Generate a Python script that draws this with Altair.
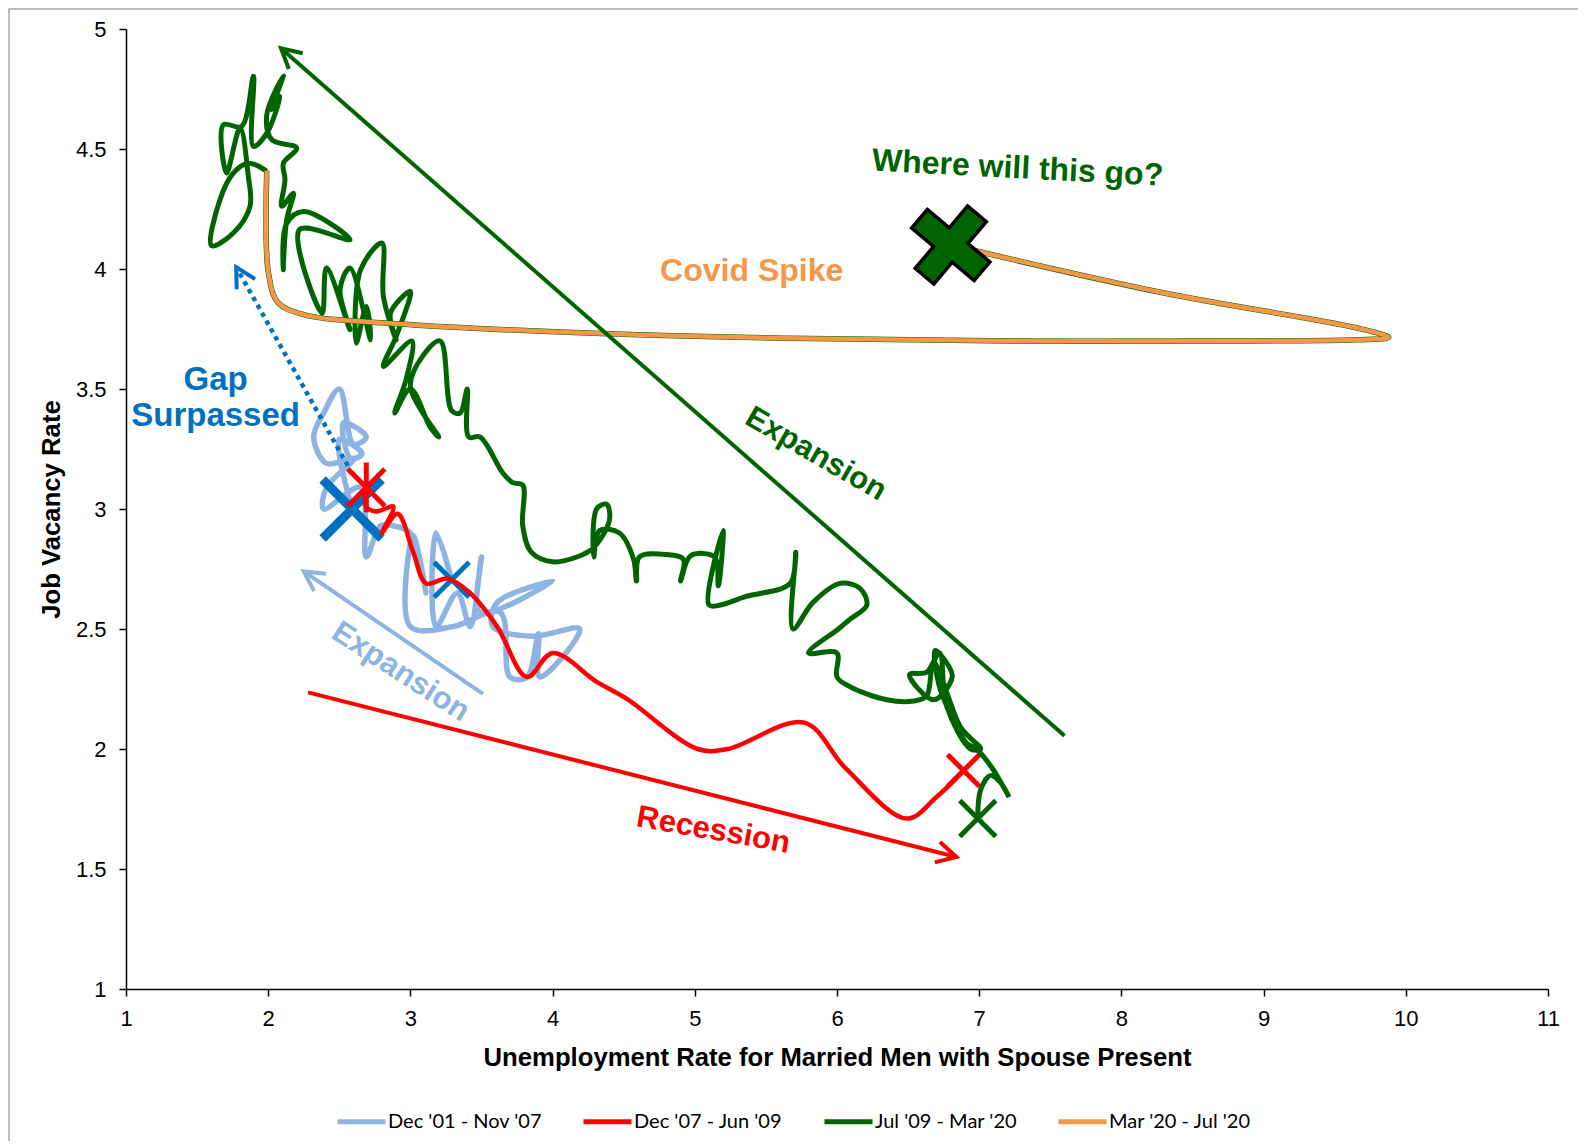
import math
import altair as alt
import pandas as pd

# ---------------- data ----------------
# x = unemployment rate (married men, spouse present), y = job vacancy rate
SERIES = ["Dec '01 - Nov '07", "Dec '07 - Jun '09", "Jul '09 - Mar '20", "Mar '20 - Jul '20"]
COLORS = ["#8db3e2", "#ff0000", "#006400", "#f79646"]

blue_x = [3.29, 3.18, 3.18, 3.33, 3.42, 3.50, 3.49, 4.00, 3.61, 3.58, 3.86, 4.19, 3.91, 3.90,
          3.82, 3.70, 3.63, 3.30, 3.00, 3.02, 3.11, 3.00, 2.88, 2.79, 2.69, 2.65, 2.39, 2.41,
          2.60, 2.41, 2.32, 2.39, 2.50, 2.60, 2.69, 2.53, 2.58, 2.66, 2.50, 2.59]
blue_y = [2.705, 2.90, 2.51, 2.65, 2.51, 2.80, 2.57, 2.70, 2.61, 2.51, 2.47, 2.50, 2.30, 2.48,
          2.30, 2.30, 2.57, 2.51, 2.51, 2.89, 2.65, 2.90, 2.93, 2.93, 2.80, 3.09, 3.00, 3.09,
          3.21, 3.19, 3.30, 3.40, 3.50, 3.27, 3.30, 3.36, 3.21, 3.23, 3.29, 3.00]

red_x = [2.69, 2.69, 2.76, 2.88, 2.80, 2.91, 3.02, 3.11, 3.26, 3.42, 3.61, 3.82, 4.00, 4.31,
         4.52, 5.02, 5.23, 5.77, 6.06, 6.49, 6.70, 6.89]
red_y = [3.09, 3.01, 2.99, 3.01, 2.90, 2.98, 2.82, 2.69, 2.71, 2.65, 2.51, 2.30, 2.40, 2.28,
         2.21, 2.00, 2.00, 2.11, 1.92, 1.71, 1.80, 1.91]

green_x = [6.99, 7.01, 7.08, 7.15, 7.21, 7.08, 6.98, 6.91, 6.82, 6.72, 6.69, 6.77, 6.81, 6.68,
           6.51, 6.63, 6.72, 6.77, 6.94, 7.01, 6.87, 6.68, 6.63, 6.54, 6.35, 6.09, 6.00, 6.00,
           5.80, 6.01, 6.09, 6.21, 6.16, 6.02, 5.83, 5.69, 5.71, 5.67, 5.36, 5.18, 5.10, 5.20,
           5.165, 5.14, 4.97, 4.90, 4.92, 4.80, 4.61, 4.59, 4.57, 4.47, 4.33, 4.29, 4.31, 4.38,
           4.40, 4.29, 4.17, 4.00, 3.85, 3.79, 3.79, 3.72, 3.65, 3.49, 3.41, 3.40, 3.35, 3.29,
           3.21, 3.09, 3.00, 3.20, 3.14, 3.00, 2.89, 2.97, 3.01,
           2.81, 2.90, 3.00, 2.86, 2.90, 2.81, 2.80, 2.65, 2.62, 2.69, 2.72, 2.575, 2.505, 2.575,
           2.41, 2.38, 2.22, 2.575, 2.25, 2.13, 2.106, 2.13, 2.177,
           2.095, 2.118, 2.107, 2.20, 2.025, 1.99, 2.107, 2.025, 2.083, 1.99, 1.896, 1.896,
           1.813, 1.685, 1.708, 1.802, 1.86, 1.872, 1.755, 1.602, 1.661, 1.755, 1.86, 1.99]
green_y = [1.71, 1.83, 1.89, 1.86, 1.80, 1.93, 2.00, 2.025, 2.12, 2.26, 2.41, 2.36, 2.30, 2.205,
           2.31, 2.32, 2.40, 2.18, 2.00, 2.00, 2.09, 2.36, 2.22, 2.20, 2.205, 2.26, 2.30, 2.40,
           2.40, 2.50, 2.54, 2.60, 2.67, 2.69, 2.61, 2.50, 2.82, 2.69, 2.636, 2.60, 2.60, 2.91,
           2.68, 2.80, 2.805, 2.70, 2.79, 2.81, 2.80, 2.70, 2.79, 2.90, 2.91, 2.80, 3.00, 3.02,
           2.955, 2.84, 2.80, 2.78, 2.82, 2.93, 3.10, 3.11, 3.15, 3.30, 3.30, 3.50, 3.40, 3.41,
           3.70, 3.64, 3.51, 3.30, 3.34, 3.50, 3.40, 3.54, 3.70,
           3.594, 3.719, 3.907, 3.816, 3.705, 3.886, 4.108, 3.997, 3.691, 3.844, 3.705, 4.004,
           3.914, 3.747, 4.004, 3.816, 4.164, 4.122, 4.24, 4.19, 3.997, 4.205, 4.316,
           4.261, 4.372, 4.441, 4.504, 4.539, 4.643, 4.805, 4.664, 4.719, 4.566, 4.511, 4.803,
           4.594, 4.601, 4.40, 4.587, 4.386, 4.261, 4.15, 4.097, 4.289, 4.40, 4.441, 4.407]

orange_x = [1.99, 2.00, 2.07, 2.25, 2.96, 4.39, 5.81, 7.23, 8.65, 9.65, 9.88, 9.65, 8.30, 6.80]
orange_y = [4.41, 3.99, 3.86, 3.81, 3.77, 3.73, 3.71, 3.70, 3.70, 3.705, 3.715, 3.755, 3.90, 4.10]

# annotation arrows (tail -> tip)
arrow_x1 = [7.60, 3.51, 2.28, 2.56]
arrow_y1 = [2.055, 2.23, 2.236, 3.18]
arrow_x2 = [2.09, 2.25, 6.84, 1.775]
arrow_y2 = [4.92, 2.74, 1.55, 4.008]
arrow_color = ["#006400", "#8db3e2", "#ff0000", "#0070c0"]
arrow_dashed = [False, False, False, True]

# annotation texts
note_text = ["Where will this go?", "Covid Spike", "Gap", "Surpassed", "Expansion", "Expansion", "Recession"]
note_x = [7.27, 5.40, 1.63, 1.63, 5.85, 2.93, 5.13]
note_y = [4.42, 3.99, 3.536, 3.388, 3.228, 2.32, 1.66]
note_color = ["#006400", "#f79646", "#0070c0", "#0070c0", "#006400", "#8db3e2", "#ff0000"]
note_size = [32, 32, 33, 33, 31, 31, 31]
note_angle = [3, 0, 0, 0, 30, 33, 10]

# ---------------- layout constants ----------------
W, H = 1422, 960
XDOM, YDOM = [1, 11], [1, 5]
PX = W / (XDOM[1] - XDOM[0])
PY = H / (YDOM[1] - YDOM[0])
FONT = "Liberation Sans"

XPATH = "M-1,-1L1,1M-1,1L1,-1"
STAR = "M-1,-1L1,1M-1,1L1,-1M0,-1.35L0,1.35"
CHEVRON = "M-0.47,0.88L0,0L0.47,0.88"
BIGX = ("M-0.495,-0.919L-0.919,-0.495L-0.424,0L-0.919,0.495L-0.495,0.919L0,0.424"
        "L0.495,0.919L0.919,0.495L0.424,0L0.919,-0.495L0.495,-0.919L0,-0.424Z")


def series_df(xs, ys, name):
    return pd.DataFrame({"x": xs, "y": ys, "t": list(range(len(xs))), "series": name})


blue_df = series_df(blue_x, blue_y, SERIES[0])
red_df = series_df(red_x, red_y, SERIES[1])
green_df = series_df(green_x, green_y, SERIES[2])
orange_df = series_df(orange_x, orange_y, SERIES[3])

x_enc = alt.X("x:Q", scale=alt.Scale(domain=XDOM, nice=False, zero=False),
              axis=alt.Axis(values=list(range(1, 12)), format="d", grid=False, tickSize=7,
                            tickWidth=1.5, tickColor="black", domainColor="black", domainWidth=1.5,
                            labelFont=FONT, labelFontSize=22, labelColor="black", labelPadding=12,
                            labelFlush=False,
                            title="Unemployment Rate for Married Men with Spouse Present",
                            titleFont=FONT, titleFontSize=25.7, titleFontWeight="bold",
                            titleColor="black", titleY=68, titleBaseline="middle"))
y_enc = alt.Y("y:Q", scale=alt.Scale(domain=YDOM, nice=False, zero=False),
              axis=alt.Axis(values=[1, 1.5, 2, 2.5, 3, 3.5, 4, 4.5, 5], format="~g", grid=False,
                            tickSize=7, tickWidth=1.5, tickColor="black", domainColor="black",
                            domainWidth=1.5, labelFont=FONT, labelFontSize=22, labelColor="black",
                            labelPadding=13, labelFlush=False, title="Job Vacancy Rate",
                            titleFont=FONT, titleFontSize=25.7, titleFontWeight="bold",
                            titleColor="black", titleX=-75, titleY=H / 2, titleAngle=270,
                            titleAlign="center", titleBaseline="middle"))

color_enc = alt.Color("series:N", scale=alt.Scale(domain=SERIES, range=COLORS), title=None,
                      legend=alt.Legend(orient="none", legendX=209, legendY=1066,
                                        direction="horizontal", columns=4, symbolType="stroke",
                                        symbolSize=2304, symbolStrokeWidth=5, labelFont="Lato",
                                        labelFontSize=20, labelColor="black", labelOffset=0,
                                        columnPadding=31, padding=0))


def line_layer(df, width):
    return alt.Chart(df).mark_line(interpolate="catmull-rom", strokeWidth=width).encode(
        x=x_enc, y=y_enc, order="t:Q", color=color_enc)


# markers derived from series endpoints
def marker_df(rows):
    return pd.DataFrame(rows, columns=["x", "y", "shape", "size", "color", "sw"])


blue_marks = marker_df([(blue_x[0], blue_y[0], XPATH, 1225, "#0070c0", 5),
                        (blue_x[-1], blue_y[-1], XPATH, 3481, "#0070c0", 9)])
red_marks = marker_df([(red_x[0], red_y[0], STAR, 1369, "#ff0000", 5),
                       (red_x[-1], red_y[-1], XPATH, 1024, "#ff0000", 5)])
green_marks = marker_df([(green_x[0], green_y[0], XPATH, 1296, "#006400", 5)])


def marker_layer(df):
    return alt.Chart(df).mark_point(filled=False, opacity=1).encode(
        x=x_enc, y=y_enc,
        shape=alt.Shape("shape:N", scale=None),
        size=alt.Size("size:Q", scale=None),
        color=alt.Color("color:N", scale=None),
        strokeWidth=alt.StrokeWidth("sw:Q", scale=None))


big_x = alt.Chart(pd.DataFrame({"x": [orange_x[-1]], "y": [orange_y[-1]]})).mark_point(
    shape=BIGX, size=6660, filled=True, fill="#006400", stroke="black", strokeWidth=3.5,
    opacity=1, angle=355).encode(x=x_enc, y=y_enc)

covid_under = alt.Chart(orange_df).mark_line(
    interpolate="catmull-rom", strokeWidth=5.5, color="#006400").encode(x=x_enc, y=y_enc, order="t:Q")

# arrows
arrows = pd.DataFrame({"x": arrow_x1, "y": arrow_y1, "x2": arrow_x2, "y2": arrow_y2,
                       "color": arrow_color, "dashed": arrow_dashed})
arrows["angle"] = [
    math.degrees(math.atan2((b - a) * PX, (d - c) * PY)) % 360
    for a, b, c, d in zip(arrow_x1, arrow_x2, arrow_y1, arrow_y2)
]

solid_rules = alt.Chart(arrows).transform_filter("!datum.dashed").mark_rule(strokeWidth=4).encode(
    x=x_enc, y=y_enc, x2="x2:Q", y2="y2:Q", color=alt.Color("color:N", scale=None))
dashed_rules = alt.Chart(arrows).transform_filter("datum.dashed").mark_rule(
    strokeWidth=4.5, strokeDash=[4.5, 4.5]).encode(
    x=x_enc, y=y_enc, x2="x2:Q", y2="y2:Q", color=alt.Color("color:N", scale=None))
heads = alt.Chart(arrows).mark_point(shape=CHEVRON, size=2000, filled=False, strokeWidth=4,
                                     opacity=1).encode(
    x=alt.X("x2:Q", scale=alt.Scale(domain=XDOM, nice=False, zero=False)),
    y=alt.Y("y2:Q", scale=alt.Scale(domain=YDOM, nice=False, zero=False)),
    color=alt.Color("color:N", scale=None),
    angle=alt.Angle("angle:Q", scale=None))

notes = pd.DataFrame({"text": note_text, "x": note_x, "y": note_y, "color": note_color,
                      "size": note_size, "angle": note_angle})
texts = alt.Chart(notes).mark_text(font=FONT, fontWeight="bold", align="center",
                                   baseline="middle").encode(
    x=x_enc, y=y_enc, text="text:N",
    color=alt.Color("color:N", scale=None),
    size=alt.Size("size:Q", scale=None),
    angle=alt.Angle("angle:Q", scale=None))

frame = alt.Chart(pd.DataFrame({"a": [0]})).mark_rect(
    fillOpacity=0, stroke="#a6a6a6", strokeWidth=1.5).encode(
    x=alt.value(-117), y=alt.value(-20), x2=alt.value(1500), y2=alt.value(1250))

chart = alt.layer(
    frame,
    line_layer(blue_df, 5.5),
    marker_layer(blue_marks),
    line_layer(red_df, 4.5),
    marker_layer(red_marks),
    line_layer(green_df, 5),
    covid_under,
    line_layer(orange_df, 4.5),
    marker_layer(green_marks),
    big_x,
    solid_rules,
    dashed_rules,
    heads,
    texts,
).properties(
    width=W, height=H,
    autosize=alt.AutoSizeParams(type="none"),
    padding={"left": 118, "top": 21, "right": 30, "bottom": 152},
    background="white",
).configure_view(strokeWidth=0)

chart.save("out.html", embed_options={"renderer": "svg", "actions": False})
